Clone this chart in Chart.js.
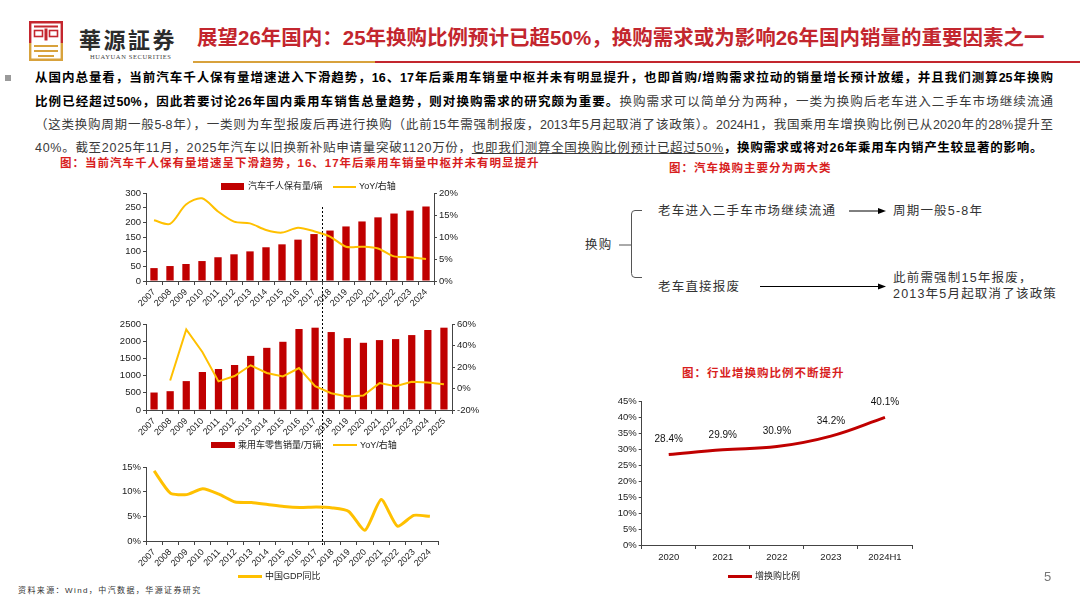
<!DOCTYPE html>
<html lang="zh-CN">
<head>
<meta charset="utf-8">
<title>换购需求</title>
<script src="https://cdn.jsdelivr.net/npm/chart.js@4.4.1/dist/chart.umd.min.js"></script>
<style>
  html, body { margin: 0; padding: 0; background: #fff; }
  #page { position: relative; width: 1080px; height: 596px; overflow: hidden;
          font-family: "Liberation Sans", "Noto Sans CJK SC", sans-serif; color: #222; }
  .abs { position: absolute; white-space: nowrap; }
  .body { position: absolute; left: 35px; width: 1018px; font-size: 12.5px; line-height: 16px;
          text-align: justify; text-align-last: justify; color: #3a3a3a; }
  .b { font-weight: 700; color: #000; }
  .u { text-decoration: underline; }
  .red { color: #d81e1e; font-weight: 700; font-size: 11.5px; letter-spacing: 1px; line-height: 14px; }
  .dg { font-size: 12.5px; letter-spacing: 1.2px; color: #333; line-height: 16px; }
  .lg { font-size: 9px; line-height: 12px; color: #222; }
  canvas { position: absolute; }
</style>
</head>
<body>
<div id="page">

  <!-- logo -->
  <svg class="abs" style="left:29px;top:21px" width="34" height="40">
    <path d="M1.2 22 V1.2 H32.8 V22" fill="none" stroke="#c4262e" stroke-width="2.4"/>
    <rect x="5" y="4.5" width="24" height="2" fill="#c4262e"/>
    <rect x="5.5" y="9.5" width="8" height="6" fill="none" stroke="#c4262e" stroke-width="1.6"/>
    <rect x="20.5" y="9.5" width="8" height="6" fill="none" stroke="#c4262e" stroke-width="1.6"/>
    <rect x="15.5" y="7.5" width="3" height="12" fill="#c4262e"/>
    <path d="M1.2 22 V38.8 H32.8 V22" fill="none" stroke="#d8a23c" stroke-width="2.4"/>
    <path d="M5 25 H29 M5 30 H29 M9 35 H25" stroke="#d8a23c" stroke-width="2"/>
  </svg>
  <div class="abs" style="left:79px;top:24px;font-size:22px;line-height:28px;font-weight:700;letter-spacing:2.5px;color:#2b2b2b;font-family:'Noto Sans CJK TC',sans-serif">華源証券</div>
  <div class="abs" style="left:90px;top:53px;font-size:6.5px;line-height:8px;letter-spacing:0.6px;color:#444;font-family:'Liberation Serif',serif">HUAYUAN SECURITIES</div>

  <!-- title -->
  <div class="abs" style="left:197px;top:24px;font-size:20.5px;line-height:28px;font-weight:700;color:#c3262e">展望26年国内：25年换购比例预计已超50%，换购需求或为影响26年国内销量的重要因素之一</div>
  <div class="abs" style="left:193px;top:61px;width:182px;height:2px;background:#d8a23c"></div>
  <div class="abs" style="left:375px;top:61px;width:705px;height:2px;background:#c3262e"></div>

  <!-- body text -->
  <div class="abs" style="left:5px;top:75px;width:6px;height:6px;background:#9a9a9a"></div>
  <div class="body" style="top:70px"><span class="b">从国内总量看，当前汽车千人保有量增速进入下滑趋势，16、17年后乘用车销量中枢并未有明显提升，也即首购/增购需求拉动的销量增长预计放缓，并且我们测算25年换购</span></div>
  <div class="body" style="top:93.5px"><span class="b">比例已经超过50%，因此若要讨论26年国内乘用车销售总量趋势，则对换购需求的研究颇为重要。</span>换购需求可以简单分为两种，一类为换购后老车进入二手车市场继续流通</div>
  <div class="body" style="top:117px">（这类换购周期一般5-8年），一类则为车型报废后再进行换购（此前15年需强制报废，2013年5月起取消了该政策）。2024H1，我国乘用车增换购比例已从2020年的28%提升至</div>
  <div class="body" style="top:139.5px;text-align:left;text-align-last:left;letter-spacing:0.72px">40%。截至2025年11月，2025年汽车以旧换新补贴申请量突破1120万份，<span class="u">也即我们测算全国换购比例预计已超过50%</span><span class="b">，换购需求或将对26年乘用车内销产生较显著的影响。</span></div>

  <!-- figure captions -->
  <div class="abs red" style="left:60px;top:156px">图：当前汽车千人保有量增速呈下滑趋势，16、17年后乘用车销量中枢并未有明显提升</div>
  <div class="abs red" style="left:669px;top:161px">图：汽车换购主要分为两大类</div>
  <div class="abs red" style="left:682px;top:366px">图：行业增换购比例不断提升</div>

  <!-- diagram -->
  <div class="abs dg" style="left:585px;top:237px">换购</div>
  <div class="abs dg" style="left:658px;top:203px">老车进入二手车市场继续流通</div>
  <div class="abs dg" style="left:893px;top:203px">周期一般5-8年</div>
  <div class="abs dg" style="left:658px;top:279px">老车直接报废</div>
  <div class="abs dg" style="left:893px;top:270px">此前需强制15年报废，</div>
  <div class="abs dg" style="left:893px;top:286px">2013年5月起取消了该政策</div>

  <svg class="abs" style="left:0;top:0" width="1080" height="596">
    <line x1="322.5" y1="207" x2="322.5" y2="545" stroke="#000" stroke-width="1" stroke-dasharray="2 2"/>
    <path d="M619 245 H631" stroke="#555" fill="none"/>
    <path d="M642 210.5 H635 Q631.5 210.5 631.5 214 V273.5 Q631.5 277.5 635 277.5 H642" stroke="#555" fill="none"/>
    <line x1="849" y1="211" x2="879" y2="211" stroke="#000"/>
    <path d="M886 211 L878 208 L878 214 Z" fill="#000"/>
    <line x1="760" y1="286.5" x2="879" y2="286.5" stroke="#000"/>
    <path d="M886 286.5 L878 283.5 L878 289.5 Z" fill="#000"/>
  </svg>

  <!-- charts -->
  <canvas id="c1" width="380" height="140" style="left:100px;top:180px"></canvas>
  <canvas id="c2" width="390" height="145" style="left:100px;top:312px"></canvas>
  <canvas id="c3" width="345" height="125" style="left:100px;top:455px"></canvas>
  <canvas id="c4" width="330" height="180" style="left:595px;top:390px"></canvas>

  <!-- legends -->
  <div class="abs" style="left:221px;top:183px;width:23px;height:7px;background:#c00000"></div>
  <div class="abs lg" style="left:248px;top:180px">汽车千人保有量/辆</div>
  <div class="abs" style="left:333px;top:185.5px;width:23px;height:2px;background:#ffc000"></div>
  <div class="abs lg" style="left:359px;top:180px">YoY/右轴</div>

  <div class="abs" style="left:211px;top:442px;width:24px;height:6px;background:#c00000"></div>
  <div class="abs lg" style="left:238px;top:439px">乘用车零售销量/万辆</div>
  <div class="abs" style="left:333px;top:444px;width:24px;height:2px;background:#ffc000"></div>
  <div class="abs lg" style="left:360px;top:439px">YoY/右轴</div>

  <div class="abs" style="left:238px;top:574.5px;width:24px;height:3px;background:#ffc000"></div>
  <div class="abs lg" style="left:265px;top:570px">中国GDP同比</div>

  <div class="abs" style="left:728px;top:574.5px;width:24px;height:3px;background:#c00000"></div>
  <div class="abs lg" style="left:755px;top:570px">增换购比例</div>

  <div class="abs" style="left:18px;top:585px;font-size:8px;line-height:11px;letter-spacing:1.4px;color:#333">资料来源：Wind，中汽数据，华源证券研究</div>
  <div class="abs" style="left:1044px;top:569px;font-size:13px;line-height:16px;color:#777">5</div>
</div>

<script>
// 汽车千人保有量（辆）与同比
const years1 = ['2007','2008','2009','2010','2011','2012','2013','2014','2015','2016','2017','2018','2019','2020','2021','2022','2023','2024'];
const ownership = [44, 51, 58, 68, 81, 91, 101, 115, 125, 141, 160, 172, 186, 203, 217, 230, 240, 254];
const ownershipYoY = [13.8, 13.0, 17.4, 18.8, 15.8, 13.5, 13.1, 11.6, 11.0, 12.1, 11.3, 10.1, 7.8, 7.8, 7.4, 5.6, 5.4, 5.0];

// 乘用车零售销量（万辆）与同比
const years2 = ['2007','2008','2009','2010','2011','2012','2013','2014','2015','2016','2017','2018','2019','2020','2021','2022','2023','2024','2025'];
const retail = [508, 547, 840, 1104, 1192, 1309, 1573, 1807, 1983, 2354, 2393, 2266, 2090, 1954, 2032, 2061, 2178, 2325, 2393];
const retailYoY = [null, 7.5, 55, 34, 6.6, 11.6, 21.6, 14.4, 11.2, 19, 2.2, -4.4, -7.5, -6.6, 5, 2.2, 6.2, 5.6, 4];

// 中国GDP同比
const gdpYoY = [14.2, 9.7, 9.4, 10.6, 9.5, 7.9, 7.8, 7.4, 7.0, 6.8, 6.9, 6.7, 6.0, 2.2, 8.4, 3.0, 5.2, 5.0];

// 增换购比例
const periods = ['2020', '2021', '2022', '2023', '2024H1'];
const replaceRatio = [28.4, 29.9, 30.9, 34.2, 40.1];

// tick labels
const ticks1L = [0, 50, 100, 150, 200, 250, 300];
const ticks1R = [0, 5, 10, 15, 20];
const ticks2L = [0, 500, 1000, 1500, 2000, 2500];
const ticks2R = [-20, 0, 20, 40, 60];
const ticks3 = [0, 5, 10, 15];
const ticks4 = [0, 5, 10, 15, 20, 25, 30, 35, 40, 45];

Chart.defaults.font.family = '"Liberation Sans", "Noto Sans CJK SC", sans-serif';
Chart.defaults.color = '#222';
Chart.defaults.animation = false;

const RED = '#c00000';
const YELLOW = '#ffc000';
const grid = { display: true, drawOnChartArea: false, drawTicks: true, tickLength: 3, color: '#444' };
const border = { display: true, color: '#444', width: 1 };
const noPlugins = { legend: { display: false }, tooltip: { enabled: false } };

function valueAxis(pos, tickList, width, fmt, pad) {
  return {
    position: pos,
    min: tickList[0],
    max: tickList[tickList.length - 1],
    grid: grid,
    border: border,
    afterBuildTicks: s => { s.ticks = tickList.map(v => ({ value: v })); },
    ticks: { font: { size: 9.5 }, padding: pad || 2, callback: fmt || (v => v) },
    afterFit: s => { s.width = width; }
  };
}

function yearAxis(height) {
  return {
    offset: true,
    grid: Object.assign({}, grid, { offset: true, tickLength: 4 }),
    border: border,
    ticks: { font: { size: 9 }, maxRotation: 45, minRotation: 45, autoSkip: false, padding: 2 },
    afterFit: s => { s.height = height; }
  };
}

const pct = v => v + '%';

new Chart(document.getElementById('c1'), {
  type: 'bar',
  data: {
    labels: years1,
    datasets: [
      { type: 'line', label: 'YoY/右轴', data: ownershipYoY, yAxisID: 'y1', borderColor: YELLOW,
        borderWidth: 2, pointRadius: 0, tension: 0.3, order: 0 },
      { label: '汽车千人保有量/辆', data: ownership, backgroundColor: RED, yAxisID: 'y',
        categoryPercentage: 1, barPercentage: 0.46, order: 1 }
    ]
  },
  options: {
    responsive: false,
    layout: { padding: { top: 13, left: 0, right: 0, bottom: 0 } },
    plugins: noPlugins,
    scales: {
      x: yearAxis(39),
      y: valueAxis('left', ticks1L, 46),
      y1: valueAxis('right', ticks1R, 46, pct)
    }
  }
});

new Chart(document.getElementById('c2'), {
  type: 'bar',
  data: {
    labels: years2,
    datasets: [
      { type: 'line', label: 'YoY/右轴', data: retailYoY, yAxisID: 'y1', borderColor: YELLOW,
        borderWidth: 2, pointRadius: 0, tension: 0, order: 0 },
      { label: '乘用车零售销量/万辆', data: retail, backgroundColor: RED, yAxisID: 'y',
        categoryPercentage: 1, barPercentage: 0.45, order: 1 }
    ]
  },
  options: {
    responsive: false,
    layout: { padding: { top: 12, left: 0, right: 0, bottom: 0 } },
    plugins: noPlugins,
    scales: {
      x: yearAxis(47),
      y: valueAxis('left', ticks2L, 46),
      y1: valueAxis('right', ticks2R, 38, pct)
    }
  }
});

new Chart(document.getElementById('c3'), {
  type: 'line',
  data: {
    labels: years1,
    datasets: [
      { label: '中国GDP同比', data: gdpYoY, borderColor: YELLOW, borderWidth: 3,
        pointRadius: 0, tension: 0.2 }
    ]
  },
  options: {
    responsive: false,
    layout: { padding: { top: 12, left: 0, right: 7, bottom: 0 } },
    plugins: noPlugins,
    scales: {
      x: yearAxis(39),
      y: valueAxis('left', ticks3, 46, pct)
    }
  }
});

// 数据标签
const pointLabels = {
  id: 'pointLabels',
  afterDatasetsDraw(chart) {
    const ctx = chart.ctx;
    const meta = chart.getDatasetMeta(0);
    ctx.save();
    ctx.font = '10px "Liberation Sans", sans-serif';
    ctx.fillStyle = '#111';
    ctx.textAlign = 'center';
    ctx.textBaseline = 'middle';
    meta.data.forEach((pt, i) => {
      ctx.fillText(replaceRatio[i].toFixed(1) + '%', pt.x, pt.y - 15);
    });
    ctx.restore();
  }
};

new Chart(document.getElementById('c4'), {
  type: 'line',
  data: {
    labels: periods,
    datasets: [
      { label: '增换购比例', data: replaceRatio, borderColor: RED, borderWidth: 3,
        pointRadius: 0, tension: 0.4 }
    ]
  },
  options: {
    responsive: false,
    layout: { padding: { top: 11.7, left: 0, right: 13, bottom: 0 } },
    plugins: noPlugins,
    scales: {
      x: {
        offset: true,
        grid: Object.assign({}, grid, { offset: true, tickLength: 4 }),
        border: border,
        ticks: { font: { size: 9.5 }, padding: 3, maxRotation: 0 },
        afterFit: s => { s.height = 25; }
      },
      y: valueAxis('left', ticks4, 46.7, pct)
    }
  },
  plugins: [pointLabels]
});
</script>
</body>
</html>
